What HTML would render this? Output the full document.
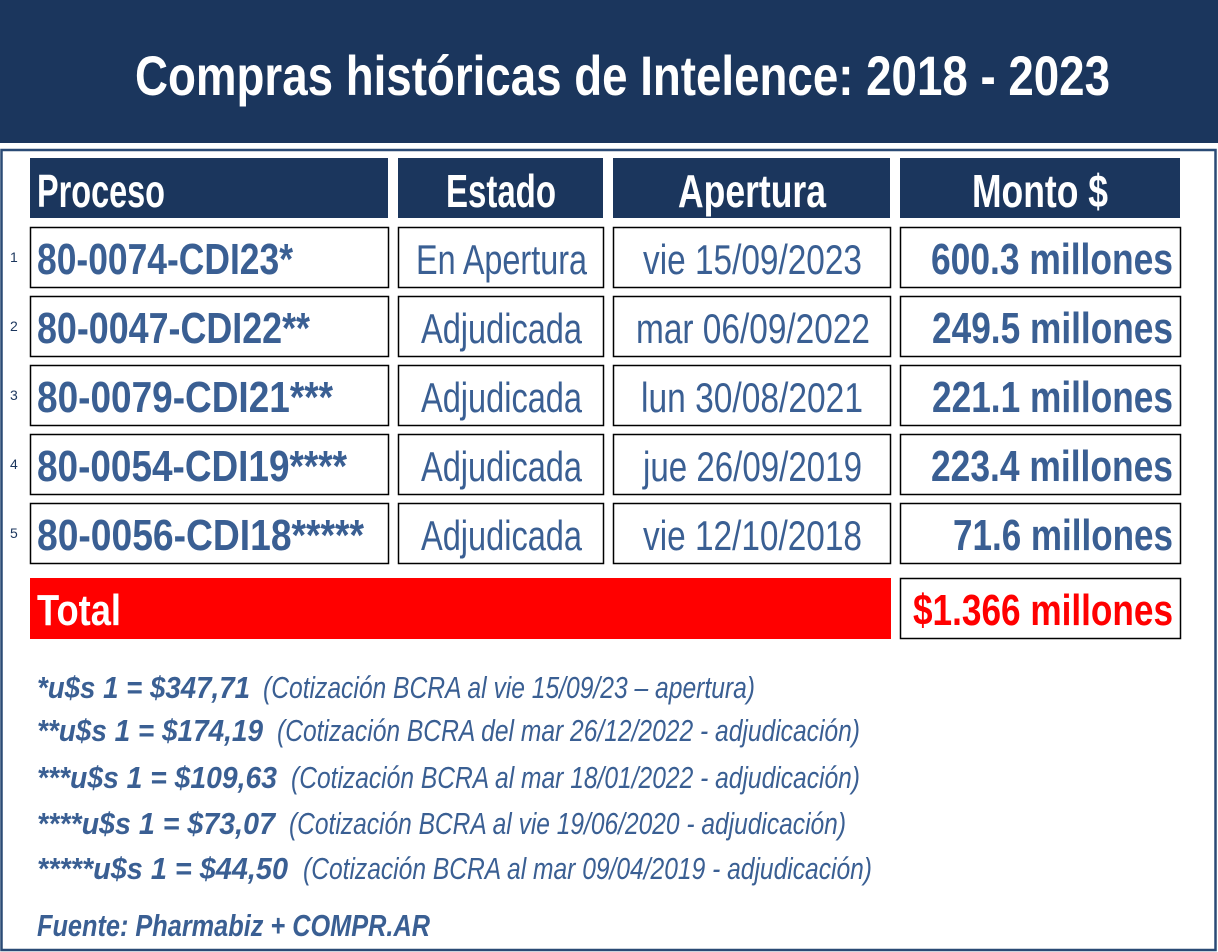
<!DOCTYPE html>
<html><head><meta charset="utf-8"><style>html,body{margin:0;padding:0;background:#fff}svg{display:block}</style></head>
<body>
<svg width="1218" height="952" viewBox="0 0 1218 952" xmlns="http://www.w3.org/2000/svg" font-family="Liberation Sans, sans-serif">
<rect width="1218" height="952" fill="#fff"/>
<rect x="0" y="0" width="1218" height="143" fill="#1b365d"/>
<rect x="1.5" y="150" width="1214" height="800" fill="none" stroke="#2a4a75" stroke-width="2.5"/>
<text x="135" y="95" font-size="56" font-weight="bold" fill="#fff" textLength="975" lengthAdjust="spacingAndGlyphs">Compras históricas de Intelence: 2018 - 2023</text>
<g fill="#1b365d">
<rect x="30" y="158" width="358" height="60"/><rect x="398" y="158" width="205" height="60"/>
<rect x="613" y="158" width="277" height="60"/><rect x="900" y="158" width="280" height="60"/>
</g>
<g font-size="46" font-weight="bold" fill="#fff">
<text x="37" y="207" textLength="128" lengthAdjust="spacingAndGlyphs">Proceso</text>
<text x="446" y="207" textLength="110" lengthAdjust="spacingAndGlyphs">Estado</text>
<text x="678" y="207" textLength="148" lengthAdjust="spacingAndGlyphs">Apertura</text>
<text x="972" y="207" textLength="136" lengthAdjust="spacingAndGlyphs">Monto $</text>
</g>
<g fill="none" stroke="#000" stroke-width="1.5">
<rect x="30.5" y="227.5" width="358" height="60"/><rect x="398.5" y="227.5" width="205" height="60"/><rect x="613.5" y="227.5" width="277" height="60"/><rect x="900.5" y="227.5" width="280" height="60"/>
<rect x="30.5" y="296.5" width="358" height="60"/><rect x="398.5" y="296.5" width="205" height="60"/><rect x="613.5" y="296.5" width="277" height="60"/><rect x="900.5" y="296.5" width="280" height="60"/>
<rect x="30.5" y="365.5" width="358" height="60"/><rect x="398.5" y="365.5" width="205" height="60"/><rect x="613.5" y="365.5" width="277" height="60"/><rect x="900.5" y="365.5" width="280" height="60"/>
<rect x="30.5" y="434.5" width="358" height="60"/><rect x="398.5" y="434.5" width="205" height="60"/><rect x="613.5" y="434.5" width="277" height="60"/><rect x="900.5" y="434.5" width="280" height="60"/>
<rect x="30.5" y="503.5" width="358" height="60"/><rect x="398.5" y="503.5" width="205" height="60"/><rect x="613.5" y="503.5" width="277" height="60"/><rect x="900.5" y="503.5" width="280" height="60"/>
<rect x="900.5" y="578.5" width="280" height="60"/>
</g>
<rect x="30" y="578" width="861" height="61" fill="#ff0000"/>
<g font-size="14" fill="#1b365d">
<text x="10" y="262">1</text><text x="10" y="331">2</text><text x="10" y="400">3</text><text x="10" y="469">4</text><text x="10" y="538">5</text>
</g>
<g fill="#3a5f93" font-size="44">
<g font-weight="bold">
<text x="37" y="274" textLength="256" lengthAdjust="spacingAndGlyphs">80-0074-CDI23*</text>
<text x="37" y="343" textLength="273" lengthAdjust="spacingAndGlyphs">80-0047-CDI22**</text>
<text x="37" y="412" textLength="296" lengthAdjust="spacingAndGlyphs">80-0079-CDI21***</text>
<text x="37" y="481" textLength="310" lengthAdjust="spacingAndGlyphs">80-0054-CDI19****</text>
<text x="37" y="550" textLength="327" lengthAdjust="spacingAndGlyphs">80-0056-CDI18*****</text>
<text x="931" y="274" textLength="242" lengthAdjust="spacingAndGlyphs">600.3 millones</text>
<text x="932" y="343" textLength="241" lengthAdjust="spacingAndGlyphs">249.5 millones</text>
<text x="932" y="412" textLength="241" lengthAdjust="spacingAndGlyphs">221.1 millones</text>
<text x="931" y="481" textLength="242" lengthAdjust="spacingAndGlyphs">223.4 millones</text>
<text x="953" y="550" textLength="220" lengthAdjust="spacingAndGlyphs">71.6 millones</text>
</g>
<g font-size="42">
<text x="416" y="274" textLength="171" lengthAdjust="spacingAndGlyphs">En Apertura</text>
<text x="421" y="343" textLength="161" lengthAdjust="spacingAndGlyphs">Adjudicada</text>
<text x="421" y="412" textLength="161" lengthAdjust="spacingAndGlyphs">Adjudicada</text>
<text x="421" y="481" textLength="161" lengthAdjust="spacingAndGlyphs">Adjudicada</text>
<text x="421" y="550" textLength="161" lengthAdjust="spacingAndGlyphs">Adjudicada</text>
<text x="643" y="274" textLength="219" lengthAdjust="spacingAndGlyphs">vie 15/09/2023</text>
<text x="636" y="343" textLength="234" lengthAdjust="spacingAndGlyphs">mar 06/09/2022</text>
<text x="641" y="412" textLength="222" lengthAdjust="spacingAndGlyphs">lun 30/08/2021</text>
<text x="643" y="481" textLength="219" lengthAdjust="spacingAndGlyphs">jue 26/09/2019</text>
<text x="643" y="550" textLength="219" lengthAdjust="spacingAndGlyphs">vie 12/10/2018</text>
</g>
</g>
<text x="37" y="625" font-size="44" font-weight="bold" fill="#fff" textLength="84" lengthAdjust="spacingAndGlyphs">Total</text>
<text x="913" y="625" font-size="44" font-weight="bold" fill="#ff0000" textLength="260" lengthAdjust="spacingAndGlyphs">$1.366 millones</text>
<g fill="#3a5f93" font-size="31" font-style="italic">
<g font-weight="bold">
<text x="37" y="698" textLength="213" lengthAdjust="spacingAndGlyphs">*u$s 1 = $347,71</text>
<text x="37" y="741" textLength="226" lengthAdjust="spacingAndGlyphs">**u$s 1 = $174,19</text>
<text x="37" y="788" textLength="240" lengthAdjust="spacingAndGlyphs">***u$s 1 = $109,63</text>
<text x="37" y="834" textLength="238" lengthAdjust="spacingAndGlyphs">****u$s 1 = $73,07</text>
<text x="37" y="879" textLength="251" lengthAdjust="spacingAndGlyphs">*****u$s 1 = $44,50</text>
<text x="37" y="936" textLength="393" lengthAdjust="spacingAndGlyphs">Fuente: Pharmabiz + COMPR.AR</text>
</g>
<text x="263" y="698" textLength="492" lengthAdjust="spacingAndGlyphs">(Cotización BCRA al vie 15/09/23 – apertura)</text>
<text x="277" y="741" textLength="583" lengthAdjust="spacingAndGlyphs">(Cotización BCRA del mar 26/12/2022 - adjudicación)</text>
<text x="291" y="788" textLength="569" lengthAdjust="spacingAndGlyphs">(Cotización BCRA al mar 18/01/2022 - adjudicación)</text>
<text x="289" y="834" textLength="557" lengthAdjust="spacingAndGlyphs">(Cotización BCRA al vie 19/06/2020 - adjudicación)</text>
<text x="303" y="879" textLength="569" lengthAdjust="spacingAndGlyphs">(Cotización BCRA al mar 09/04/2019 - adjudicación)</text>
</g>
</svg>
</body></html>
